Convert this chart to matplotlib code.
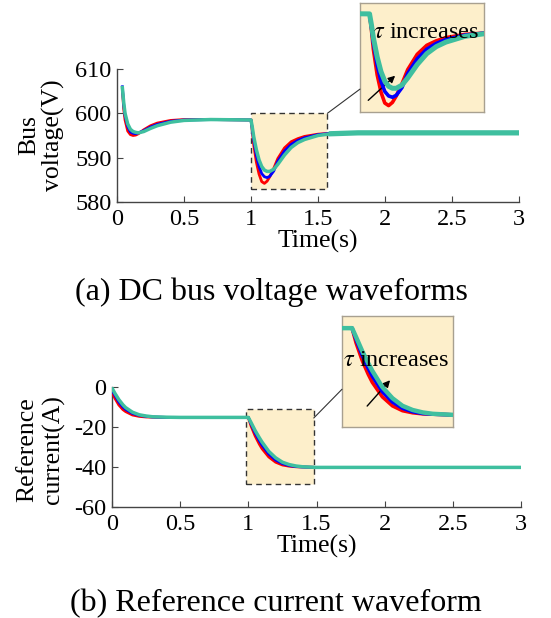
import matplotlib.pyplot as plt
from matplotlib.patches import Rectangle, ConnectionPatch
import numpy as np

plt.rcParams["font.family"] = ["Liberation Serif", "DejaVu Serif"]
plt.rcParams["mathtext.fontset"] = "stix"

# ---- (a) DC bus voltage ----
t_v = [0.04, 0.05, 0.06, 0.08, 0.10, 0.12, 0.14, 0.16, 0.20, 0.25, 0.30, 0.40, 0.50, 0.70,
       1.00, 1.01, 1.02, 1.04, 1.06, 1.08, 1.10, 1.12, 1.14, 1.17, 1.20, 1.25, 1.30, 1.35,
       1.40, 1.50, 1.60, 1.80, 2.00, 2.50, 3.00]
v_red = [605.5, 601.0, 598.5, 596.0, 595.2, 595.0, 595.1, 595.4, 596.3, 597.2, 597.8, 598.4, 598.6, 598.6,
         598.5, 596.0, 593.0, 589.0, 586.3, 584.6, 584.2, 584.7, 585.7, 587.6, 589.8, 592.2, 593.6, 594.3,
         594.8, 595.3, 595.5, 595.6, 595.7, 595.7, 595.7]
v_blue = [606.0, 602.0, 599.5, 597.0, 595.8, 595.5, 595.4, 595.6, 596.1, 596.9, 597.5, 598.2, 598.5, 598.6,
          598.5, 596.4, 594.0, 590.5, 588.0, 586.4, 585.7, 585.5, 585.8, 587.0, 589.2, 591.5, 593.0, 593.9,
          594.5, 595.2, 595.5, 595.6, 595.7, 595.7, 595.7]
v_green = [605.8, 602.5, 600.0, 597.6, 596.4, 595.9, 595.7, 595.6, 595.9, 596.6, 597.2, 598.0, 598.4, 598.6,
           598.5, 596.8, 594.8, 591.8, 589.5, 588.0, 587.2, 586.9, 586.9, 587.4, 588.5, 590.6, 592.3, 593.4,
           594.1, 595.0, 595.4, 595.6, 595.6, 595.6, 595.6]

# ---- (b) reference current ----
t_i = [0.0, 0.02, 0.05, 0.08, 0.10, 0.15, 0.20, 0.25, 0.30, 0.40, 0.50, 1.00,
       1.02, 1.05, 1.08, 1.10, 1.15, 1.20, 1.25, 1.30, 1.35, 1.40, 1.50, 2.00, 3.00]
i_red = [-2.5, -5.5, -9.0, -11.3, -12.3, -14.0, -14.7, -15.0, -15.1, -15.2, -15.2, -15.2,
         -19.5, -24.5, -28.5, -30.8, -35.0, -37.6, -39.0, -39.6, -39.9, -40.0, -40.2, -40.2, -40.2]
i_blue = [-1.5, -4.0, -7.5, -10.0, -11.2, -13.2, -14.2, -14.7, -15.0, -15.2, -15.2, -15.2,
          -18.5, -23.0, -26.8, -29.0, -33.5, -36.5, -38.3, -39.3, -39.8, -40.0, -40.2, -40.2, -40.2]
i_green = [-0.5, -3.0, -6.3, -8.9, -10.3, -12.6, -13.9, -14.5, -14.9, -15.1, -15.2, -15.2,
           -17.8, -21.8, -25.3, -27.5, -32.2, -35.4, -37.6, -38.8, -39.5, -39.9, -40.2, -40.2, -40.2]

x_ticks = [0, 0.5, 1, 1.5, 2, 2.5, 3]
x_labels = ["0", "0.5", "1", "1.5", "2", "2.5", "3"]

RED, BLUE, GREEN = "#FF0000", "#0000FF", "#3FBF9F"
BOX = "#FDEFCB"
W, H = 551, 618
TICK_FS, LAB_FS, CAP_FS, TAU_FS = 17.5, 18.5, 23, 17.5

fig = plt.figure(figsize=(W / 100, H / 100), dpi=100)


def px(x0, y0, x1, y1):
    return [x0 / W, 1 - y1 / H, (x1 - x0) / W, (y1 - y0) / H]


def style(ax):
    for s in ["top", "right"]:
        ax.spines[s].set_visible(False)
    for s in ["left", "bottom"]:
        ax.spines[s].set_color("#444444")
        ax.spines[s].set_linewidth(1.0)
    ax.tick_params(direction="in", labelsize=TICK_FS, length=4, color="#444444", pad=4)
    ax.tick_params(axis="x", pad=5)
    ax.set_xticks(x_ticks)
    ax.set_xticklabels(x_labels)
    ax.set_xlim(0, 3)


def curves(ax, t, a, b, c, lw=2.0, glw=2.5):
    ax.plot(t, a, color=RED, lw=lw, zorder=3)
    ax.plot(t, b, color=BLUE, lw=lw, zorder=4)
    ax.plot(t, c, color=GREEN, lw=glw, zorder=5)


def inset(rect):
    ia = fig.add_axes(rect)
    ia.set_facecolor(BOX)
    ia.set_xticks([])
    ia.set_yticks([])
    for s in ia.spines.values():
        s.set_color("#A8A090")
        s.set_linewidth(1.0)
    return ia


# top panel
ax1 = fig.add_axes(px(117, 69, 519, 202))
style(ax1)
ax1.set_ylim(580, 610)
ax1.set_yticks([580, 590, 600, 610])
curves(ax1, t_v, v_red, v_blue, v_green)
tv = np.array(t_v)
ax1.plot(tv[tv >= 1.6], np.array(v_green)[tv >= 1.6], color=GREEN, lw=3.8, zorder=5)
ax1.add_patch(Rectangle((1.0, 583), 0.57, 17, facecolor=BOX, edgecolor="#333333",
                        ls=(0, (4, 3)), lw=1.0, zorder=1))
ax1.set_xlabel("Time(s)", fontsize=LAB_FS, labelpad=0)

in1 = inset(px(360, 3, 484, 112))
curves(in1, t_v, v_red, v_blue, v_green, lw=2.6, glw=3.6)
in1.set_xlim(0.95, 1.6)
in1.set_ylim(583.2, 600.2)
in1.text(0.53, 0.73, r"$\tau$ increases", transform=in1.transAxes, ha="center", va="center",
         fontsize=TAU_FS, zorder=6)
in1.annotate("", xy=(0.30, 0.35), xytext=(0.05, 0.09), xycoords="axes fraction",
             arrowprops=dict(arrowstyle="-|>", color="black", lw=1.0, mutation_scale=10))
fig.add_artist(ConnectionPatch((1.57, 600), (0.0, 0.21), coordsA=ax1.transData,
                               coordsB=in1.transAxes, color="#333333", lw=0.8))

fig.text(29 / W, 1 - 135 / H, "Bus", rotation=90, ha="center", va="center", fontsize=LAB_FS)
fig.text(53 / W, 1 - 135 / H, "voltage(V)", rotation=90, ha="center", va="center", fontsize=LAB_FS)
fig.text(271 / W, 1 - 292 / H, "(a) DC bus voltage waveforms", ha="center", va="center", fontsize=CAP_FS)

# bottom panel
ax2 = fig.add_axes(px(112, 387, 521, 507))
style(ax2)
ax2.set_ylim(-60, 0)
ax2.set_yticks([0, -20, -40, -60])
ax2.set_yticklabels(["0", "-20", "-40", "-60"])
curves(ax2, t_i, i_red, i_blue, i_green)
ax2.add_patch(Rectangle((0.98, -48.5), 0.5, 37.5, facecolor=BOX, edgecolor="#333333",
                        ls=(0, (4, 3)), lw=1.0, zorder=1))
ax2.set_xlabel("Time(s)", fontsize=LAB_FS, labelpad=0)

in2 = inset(px(342, 316, 453, 427))
curves(in2, t_i, i_red, i_blue, i_green, lw=2.6, glw=3.2)
in2.set_xlim(0.95, 1.5)
in2.set_ylim(-43.7, -11.7)
in2.text(0.49, 0.60, r"$\tau$ increases", transform=in2.transAxes, ha="center", va="center",
         fontsize=TAU_FS, zorder=6)
in2.annotate("", xy=(0.45, 0.44), xytext=(0.21, 0.17), xycoords="axes fraction",
             arrowprops=dict(arrowstyle="-|>", color="black", lw=1.0, mutation_scale=10))
fig.add_artist(ConnectionPatch((1.48, -15.5), (0.0, 0.34), coordsA=ax2.transData,
                               coordsB=in2.transAxes, color="#333333", lw=0.8))

fig.text(27 / W, 1 - 450 / H, "Reference", rotation=90, ha="center", va="center", fontsize=LAB_FS)
fig.text(53 / W, 1 - 450 / H, "current(A)", rotation=90, ha="center", va="center", fontsize=LAB_FS)
fig.text(276 / W, 1 - 604 / H, "(b) Reference current waveform", ha="center", va="center", fontsize=CAP_FS)

fig.savefig("out.png", dpi=100)
